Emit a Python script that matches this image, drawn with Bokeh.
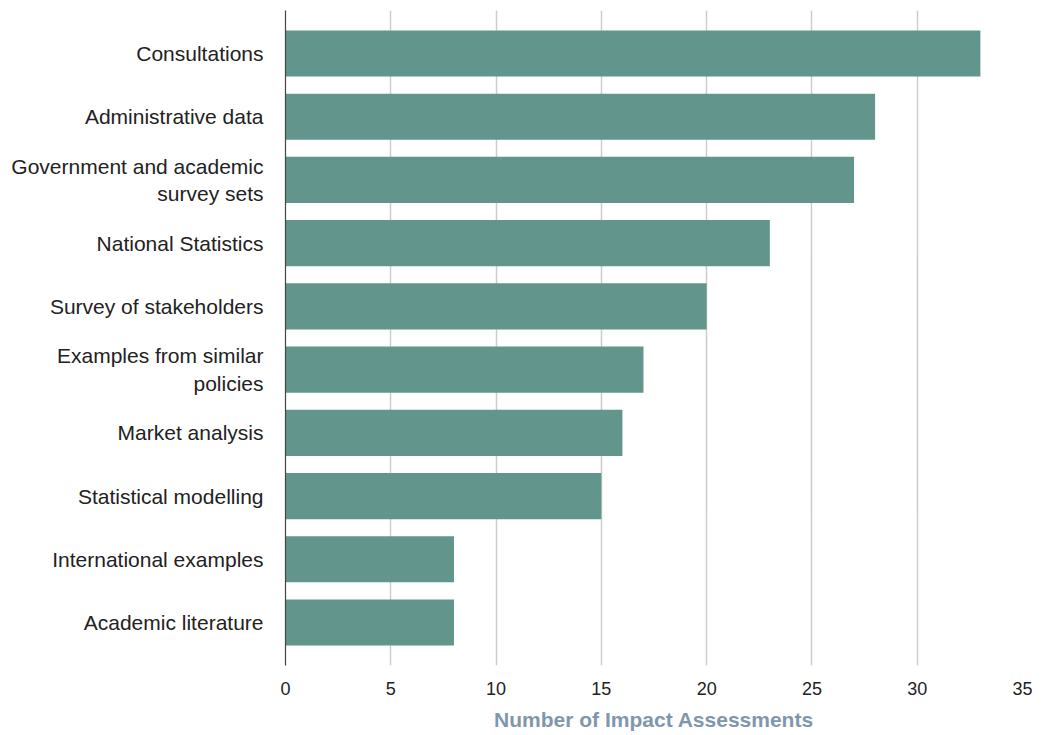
from bokeh.plotting import figure
from bokeh.models import FactorRange, Range1d
from bokeh.embed import file_html
from bokeh.resources import INLINE

categories = [
    "Consultations",
    "Administrative data",
    "Government and academic\nsurvey sets",
    "National Statistics",
    "Survey of stakeholders",
    "Examples from similar\npolicies",
    "Market analysis",
    "Statistical modelling",
    "International examples",
    "Academic literature",
]
counts = [33, 28, 27, 23, 20, 17, 16, 15, 8, 8]
x_ticks = [0, 5, 10, 15, 20, 25, 30, 35]
x_title = "Number of Impact Assessments"

FONT = "Liberation Sans"

y_range = FactorRange(factors=list(reversed(categories)), range_padding=0.18,
                      range_padding_units="absolute")
p = figure(width=1049, height=735, y_range=y_range, x_range=Range1d(0, 35),
           output_backend="svg", toolbar_location=None,
           min_border_left=285, min_border_right=27, min_border_top=10,
           min_border_bottom=70)

p.hbar(y=categories, right=counts, left=0, height=0.73,
       fill_color="#62968c", line_color=None)

p.outline_line_color = None
p.ygrid.grid_line_color = None
p.xgrid.grid_line_color = "#cccccc"
p.xgrid.grid_line_width = 1.5
p.xgrid.ticker = x_ticks

xa = p.xaxis[0]
xa.ticker = x_ticks
xa.axis_line_color = None
xa.major_tick_line_color = None
xa.minor_tick_line_color = None
xa.major_label_text_font = FONT
xa.major_label_text_font_size = "18px"
xa.major_label_text_color = "#222222"
xa.major_label_standoff = 10
xa.axis_label = x_title
xa.axis_label_text_font = FONT
xa.axis_label_text_font_size = "21px"
xa.axis_label_text_font_style = "bold"
xa.axis_label_text_color = "#7f97ad"
xa.axis_label_standoff = 10

ya = p.yaxis[0]
ya.axis_line_color = "#444444"
ya.axis_line_width = 1.2
ya.major_tick_line_color = None
ya.minor_tick_line_color = None
ya.major_label_text_font = FONT
ya.major_label_text_font_size = "21px"
ya.major_label_text_color = "#222222"
ya.major_label_standoff = 16

open("out.html", "w").write(file_html(p, INLINE))
